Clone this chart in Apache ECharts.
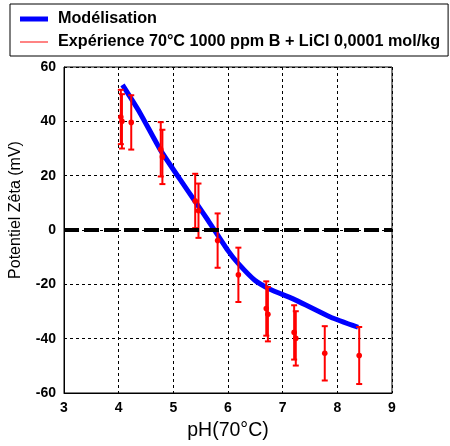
<!DOCTYPE html>
<html>
<head>
<meta charset="utf-8">
<script src="https://cdn.jsdelivr.net/npm/echarts@6/dist/echarts.min.js"></script>
<style>
  html, body { margin: 0; padding: 0; background: #fff; }
  #chart { width: 450px; height: 446px; }
</style>
</head>
<body>
<div id="chart"></div>
<script>
// ---- Data ----
const modelName = 'Modélisation';
const expName = 'Expérience 70°C 1000 ppm B + LiCl 0,0001 mol/kg';

const modelPH   = [4.07, 4.39, 4.76, 5.12, 5.40, 5.64, 6.00, 6.19, 6.49, 6.75, 7.26, 7.87, 8.38];
const modelZeta = [53.4, 43.1, 29.6, 18.7, 10.5, 3.4, -7.6, -12.4, -18.5, -21.6, -26.0, -32.0, -35.8];

const expPH   = [4.04, 4.06, 4.23, 4.77, 4.80, 5.40, 5.46, 5.81, 6.19, 6.70, 6.73, 7.21, 7.24, 7.77, 8.40];
const expZeta = [41.6, 40.0, 39.6, 29.7, 26.9, 10.7, 7.1, -3.9, -16.5, -28.9, -31.0, -37.7, -39.9, -45.4, -46.2];
const expErr  = [10.0, 10.0, 10.0, 10.0, 10.0, 10.0, 10.0, 10.0, 10.0, 10.0, 10.0, 10.0, 10.0, 10.0, 10.5];

const xTicks = [3, 4, 5, 6, 7, 8, 9];
const yTicks = [-60, -40, -20, 0, 20, 40, 60];

// ---- Build ----
const modelData = modelPH.map((p, i) => [p, modelZeta[i]]);
const expData = expPH.map((p, i) => [p, expZeta[i] - expErr[i], expZeta[i] + expErr[i], expZeta[i]]);

const FONT = '"Liberation Sans", Arial, sans-serif';
const chart = echarts.init(document.getElementById('chart'), null, { renderer: 'canvas' });

const option = {
  backgroundColor: '#fff',
  animation: false,
  legend: {
    orient: 'vertical',
    left: 10,
    top: 4,
    padding: [7, 8, 6, 10],
    itemGap: 7,
    itemWidth: 28,
    itemHeight: 14,
    borderColor: '#000',
    borderWidth: 1,
    selectedMode: false,
    textStyle: { fontFamily: FONT, fontWeight: 'bold', fontSize: 16.2, color: '#000', padding: [0, 0, 0, 5] },
    data: [
      { name: modelName, icon: 'path://M0,0L28,0L28,5L0,5Z', itemStyle: { color: '#0000ff' } },
      { name: expName, icon: 'path://M0,0L28,0L28,1.5L0,1.5Z', itemStyle: { color: '#ff5a5a' } }
    ]
  },
  grid: {
    left: 64, right: 58, top: 67, bottom: 51,
    show: true, borderColor: '#000', borderWidth: 1, backgroundColor: 'transparent'
  },
  xAxis: {
    type: 'value',
    min: xTicks[0], max: xTicks[xTicks.length - 1], interval: 1,
    name: 'pH(70°C)',
    nameLocation: 'middle',
    nameGap: 28,
    nameTextStyle: { fontFamily: FONT, fontSize: 19.5, color: '#000' },
    axisLine: { show: true, onZero: false, lineStyle: { color: '#000', width: 1 } },
    axisTick: { show: false },
    axisLabel: { fontFamily: FONT, fontWeight: 'bold', fontSize: 14, color: '#000', margin: 8 },
    splitLine: { show: true, lineStyle: { color: '#000', width: 1, type: [3, 3] } }
  },
  yAxis: {
    type: 'value',
    min: yTicks[0], max: yTicks[yTicks.length - 1], interval: 20,
    name: 'Potentiel Zêta (mV)',
    nameLocation: 'middle',
    nameGap: 40,
    nameTextStyle: { fontFamily: FONT, fontSize: 16, color: '#000', padding: [0, 0, 0, 40] },
    axisLine: { show: true, onZero: false, lineStyle: { color: '#000', width: 1 } },
    axisTick: { show: false },
    axisLabel: { fontFamily: FONT, fontWeight: 'bold', fontSize: 14, color: '#000', margin: 8 },
    splitLine: { show: true, lineStyle: { color: '#000', width: 1, type: [3, 3] } }
  },
  series: [
    {
      name: 'zero',
      type: 'line',
      data: [],
      z: 1,
      silent: true,
      markLine: {
        silent: true,
        symbol: 'none',
        label: { show: false },
        lineStyle: { color: '#000', width: 4, type: [15, 5] },
        data: [{ yAxis: 0 }]
      }
    },
    {
      name: modelName,
      type: 'line',
      data: modelData,
      z: 3,
      showSymbol: false,
      symbol: 'none',
      smooth: 0.2,
      lineStyle: { color: '#0000ff', width: 5 },
      itemStyle: { color: '#0000ff' }
    },
    {
      name: expName,
      type: 'custom',
      data: expData,
      z: 4,
      itemStyle: { color: '#ff0000' },
      encode: { x: 0, y: [1, 2, 3] },
      renderItem: function (params, api) {
        const x = api.value(0);
        const pLo = api.coord([x, api.value(1)]);
        const pHi = api.coord([x, api.value(2)]);
        const pV = api.coord([x, api.value(3)]);
        const hw = 3;
        const st = { stroke: '#ff0000', lineWidth: 2 };
        return {
          type: 'group',
          children: [
            { type: 'line', shape: { x1: pLo[0], y1: pLo[1], x2: pHi[0], y2: pHi[1] }, style: st },
            { type: 'line', shape: { x1: pLo[0] - hw, y1: pLo[1], x2: pLo[0] + hw, y2: pLo[1] }, style: st },
            { type: 'line', shape: { x1: pHi[0] - hw, y1: pHi[1], x2: pHi[0] + hw, y2: pHi[1] }, style: st },
            { type: 'circle', shape: { cx: pV[0], cy: pV[1], r: 2.8 }, style: { fill: '#ff0000' } }
          ]
        };
      }
    }
  ]
};
chart.setOption(option);
</script>
</body>
</html>
